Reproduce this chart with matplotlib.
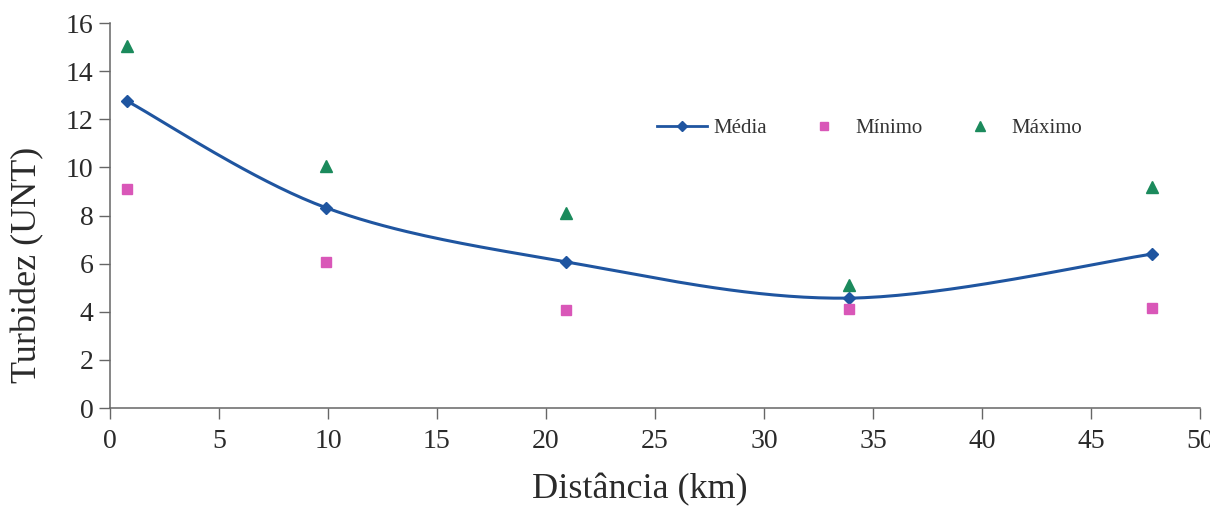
import numpy as np
import matplotlib
matplotlib.use("Agg")
import matplotlib.pyplot as plt

dist = [0.8, 9.9, 20.9, 33.9, 47.8]
media = [12.75, 8.33, 6.08, 4.57, 6.4]
minimo = [9.1, 6.08, 4.08, 4.13, 4.15]
maximo = [15.05, 10.06, 8.1, 5.1, 9.18]

xticks = [0, 5, 10, 15, 20, 25, 30, 35, 40, 45, 50]
yticks = [0, 2, 4, 6, 8, 10, 12, 14, 16]

plt.rcParams['font.family'] = ['Liberation Serif', 'DejaVu Serif']

c_blue = '#1f55a0'
c_pink = '#d957b8'
c_green = '#1b8a5c'

fig = plt.figure(figsize=(12.1, 5.07), dpi=100)
ax = fig.add_axes([0.0909, 0.195, 0.9008, 0.7596])


def smooth(xs, ys, n=40):
    # Excel-like smoothing: cubic Bezier with Catmull-Rom control points
    xs = np.asarray(xs, float)
    ys = np.asarray(ys, float)
    px, py = [xs[0]], [ys[0]]
    for i in range(len(xs) - 1):
        x0, y0 = (xs[i - 1], ys[i - 1]) if i > 0 else (xs[i], ys[i])
        x1, y1 = xs[i], ys[i]
        x2, y2 = xs[i + 1], ys[i + 1]
        x3, y3 = (xs[i + 2], ys[i + 2]) if i + 2 < len(xs) else (xs[i + 1], ys[i + 1])
        c1x, c1y = x1 + (x2 - x0) / 6, y1 + (y2 - y0) / 6
        c2x, c2y = x2 - (x3 - x1) / 6, y2 - (y3 - y1) / 6
        t = np.linspace(0, 1, n)[1:]
        bx = (1 - t) ** 3 * x1 + 3 * (1 - t) ** 2 * t * c1x + 3 * (1 - t) * t ** 2 * c2x + t ** 3 * x2
        by = (1 - t) ** 3 * y1 + 3 * (1 - t) ** 2 * t * c1y + 3 * (1 - t) * t ** 2 * c2y + t ** 3 * y2
        px.extend(bx)
        py.extend(by)
    return np.array(px), np.array(py)


sx, sy = smooth(dist, media)
ax.plot(sx, sy, color=c_blue, lw=2.2, solid_capstyle='round', zorder=3)
ax.plot(dist, media, ls='none', marker='D', ms=6.5, color=c_blue, zorder=4)
ax.plot(dist, minimo, ls='none', marker='s', ms=7, color=c_pink, zorder=4)
ax.plot(dist, maximo, ls='none', marker='^', ms=8, color=c_green, zorder=4)

# legend handles
h1, = ax.plot([], [], color=c_blue, lw=2, marker='D', ms=5.5, label='Média')
h2, = ax.plot([], [], ls='none', marker='s', ms=6, color=c_pink, label='Mínimo')
h3, = ax.plot([], [], ls='none', marker='^', ms=6.5, color=c_green, label='Máximo')
leg = ax.legend(handles=[h1, h2, h3], ncol=3, frameon=False, loc='center left',
                bbox_to_anchor=(0.502, 0.727), fontsize=15, columnspacing=1.55,
                handlelength=2.4, handletextpad=0.3, borderaxespad=0, borderpad=0)
for t in leg.get_texts():
    t.set_color('#333333')

ax.set_xlim(0, 50)
ax.set_ylim(0, 16)
ax.set_xticks(xticks)
ax.set_yticks(yticks)
ax.tick_params(axis='both', labelsize=20, colors='#666666', labelcolor='#2a2a2a',
               length=8, width=1, direction='out')
ax.tick_params(axis='y', pad=4)
ax.tick_params(axis='x', pad=7)
for s in ['top', 'right']:
    ax.spines[s].set_visible(False)
for s in ['left', 'bottom']:
    ax.spines[s].set_color('#666666')
    ax.spines[s].set_linewidth(1.1)

ax.set_xlabel('Distância (km)', fontsize=26, color='#2a2a2a', va='center')
ax.xaxis.set_label_coords(0.486, -0.213)
ax.set_ylabel('Turbidez (UNT)', fontsize=26, color='#2a2a2a', va='center')
ax.yaxis.set_label_coords(-0.075, 0.371)

fig.savefig('out.png', dpi=100)
